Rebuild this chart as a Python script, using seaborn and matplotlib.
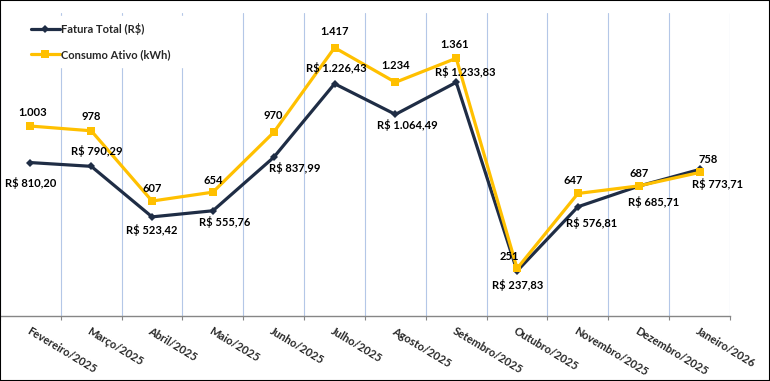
import matplotlib
matplotlib.use("Agg")
import numpy as np
import pandas as pd
import seaborn as sns
import matplotlib.pyplot as plt
from matplotlib.patches import Rectangle

meses = ["Fevereiro/2025", "Março/2025", "Abril/2025", "Maio/2025", "Junho/2025",
         "Julho/2025", "Agosto/2025", "Setembro/2025", "Outubro/2025",
         "Novembro/2025", "Dezembro/2025", "Janeiro/2026"]
fatura = [810.20, 790.29, 523.42, 555.76, 837.99, 1226.43, 1064.49, 1233.83,
          237.83, 576.81, 685.71, 773.71]
consumo = [1003, 978, 607, 654, 970, 1417, 1234, 1361, 251, 647, 687, 758]

# where each data label sits relative to its point (pixels, +y = up)
off_fatura = [(0, -20), (6, 15), (0, -13), (12, -11), (21, -11), (2, 16),
              (12, -11), (9, 10), (1, -14), (14, -16), (15, -16), (18, -15)]
off_consumo = [(2, 14), (0, 14), (0, 13), (0, 12), (0, 17), (0, 16),
               (0, 17), (-2, 14), (-8, 12), (-5, 13), (0, 12), (9, 13)]

NAVY = "#1f2d45"
GOLD = "#ffc000"


def brl(v):
    s = f"{v:,.2f}".replace(",", "X").replace(".", ",").replace("X", ".")
    return "R$ " + s


def kwh(v):
    return f"{v:,}".replace(",", ".")


def main():
    sns.set_style("white")
    plt.rcParams["font.family"] = ["Lato", "DejaVu Sans"]
    plt.rcParams["font.weight"] = "bold"

    df = pd.DataFrame({"pos": np.arange(len(meses)), "mes": meses,
                       "fatura": fatura, "consumo": consumo})

    fig = plt.figure(figsize=(7.7, 3.81), dpi=100)
    ax = fig.add_axes([0, 1 - 316 / 381, 730 / 770, (316 - 13) / 381])

    sns.lineplot(df, x="pos", y="fatura", ax=ax, color=NAVY, lw=2.3,
                 marker="D", markersize=4.5, markeredgewidth=0,
                 label="Fatura Total (R$)", zorder=3)
    sns.lineplot(df, x="pos", y="consumo", ax=ax, color=GOLD, lw=2.3,
                 marker="s", markersize=6, markeredgewidth=0,
                 label="Consumo Ativo (kWh)", zorder=4)

    for i in range(len(meses)):
        ax.annotate(brl(fatura[i]), (i, fatura[i]), xytext=off_fatura[i],
                    textcoords="offset pixels", ha="center", va="center",
                    fontsize=8, fontweight="bold", color="black", zorder=6)
        ax.annotate(kwh(consumo[i]), (i, consumo[i]), xytext=off_consumo[i],
                    textcoords="offset pixels", ha="center", va="center",
                    fontsize=8, fontweight="bold", color="black", zorder=6)

    ax.set_xlim(-0.5, len(meses) - 0.5)
    ax.set_ylim(0, 1600)
    ax.set_yticks([])
    ax.set_xlabel("")
    ax.set_ylabel("")

    ax.set_xticks(range(len(meses)))
    ax.set_xticklabels(meses)
    ax.set_xticks(np.arange(-0.5, len(meses)), minor=True)
    ax.tick_params(axis="x", which="major", length=0, pad=7, labelsize=8)
    ax.tick_params(axis="x", which="minor", length=3, width=0.8,
                   color="#868686", bottom=True)
    plt.setp(ax.get_xticklabels(), rotation=-31, ha="left", va="top",
             rotation_mode="anchor", fontweight="bold")
    ax.grid(False)
    ax.grid(which="minor", axis="x", color="#b4c7e7", lw=0.8)

    for s in ["top", "right", "left"]:
        ax.spines[s].set_visible(False)
    ax.spines["bottom"].set_color("#868686")
    ax.spines["bottom"].set_linewidth(1)

    # wide white legend box, hides the first gridlines like the original
    leg = ax.legend(loc="upper left",
                    bbox_to_anchor=(24 / 770, 1 - 70 / 381, 170 / 770, 54 / 381),
                    bbox_transform=fig.transFigure, mode="expand", frameon=True,
                    handlelength=2.6, handletextpad=0.1, labelspacing=1.3,
                    borderpad=0.6, borderaxespad=0, fontsize=8)
    leg.get_frame().set_edgecolor("white")
    leg.get_frame().set_facecolor("white")
    leg.get_frame().set_alpha(1)
    leg.set_zorder(5)

    fig.add_artist(Rectangle((0, 0), 1, 1, transform=fig.transFigure,
                             fill=False, edgecolor="black", lw=1.5))

    fig.savefig("out.png", dpi=100)


if __name__ == "__main__":
    main()
